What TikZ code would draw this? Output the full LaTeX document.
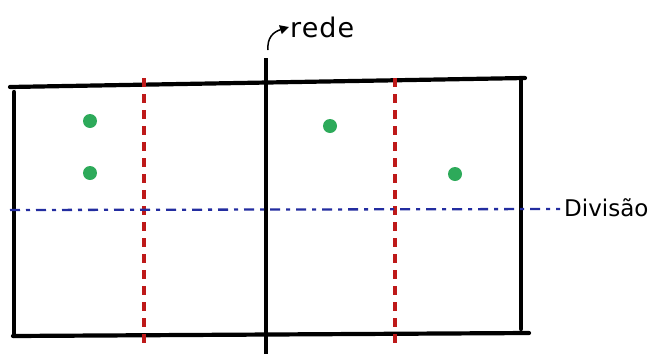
\documentclass[tikz,border=0pt]{standalone}
\usepackage{fontspec}
\setmainfont{DejaVu Sans}
\usetikzlibrary{arrows.meta}
\definecolor{netred}{RGB}{190,25,25}
\definecolor{divblue}{RGB}{35,45,160}
\definecolor{dotgreen}{RGB}{45,170,90}
\begin{document}
\begin{tikzpicture}[x=1pt,y=-1pt,
  court/.style={line width=4.2pt,black,line cap=round},
  redline/.style={line width=3.4pt,netred,dash pattern=on 9pt off 7pt},
  blueline/.style={line width=2.3pt,divblue,dash pattern=on 10pt off 6pt on 4pt off 6pt},
  ball/.style={circle,fill=dotgreen,inner sep=0pt,minimum size=14pt},
  lbl/.style={font=\fontsize{23}{24}\selectfont,inner sep=1pt},
  biglbl/.style={font=\fontsize{27}{28}\selectfont,inner sep=1pt}]
\useasboundingbox (0,0) rectangle (651,354);
% corners
\coordinate (tl) at (10,87);
\coordinate (tr) at (525,78);
\coordinate (lt) at (14,92);
\coordinate (lb) at (14,336);
\coordinate (bl) at (13,336);
\coordinate (br) at (529,333);
\coordinate (rt) at (521,78);
\coordinate (rb) at (521,329);
\coordinate (nt) at (266,58);
\coordinate (nb) at (266,354);
\coordinate (r1t) at (144,78);
\coordinate (r1b) at (144,348);
\coordinate (r2t) at (395,78);
\coordinate (r2b) at (395,350);
\coordinate (dl) at (10,210);
\coordinate (dr) at (560,209);
% court
\draw[court] (tl) -- (tr);
\draw[court] (lt) -- (lb);
\draw[court] (bl) -- (br);
\draw[court] (rt) -- (rb);
\draw[court,line cap=butt] (nt) -- (nb);
% red dashed lines
\draw[redline] (r1t) -- (r1b);
\draw[redline] (r2t) -- (r2b);
% blue division
\draw[blueline] (dl) -- (dr);
% balls
\node[ball] (b1) at (90,121) {};
\node[ball] (b2) at (90,173) {};
\node[ball] (b3) at (330,126) {};
\node[ball] (b4) at (455,174) {};
% labels
\node[biglbl,anchor=west] (rede) at (289,27) {\addfontfeatures{LetterSpace=4}rede};
\coordinate (arrs) at (268,50);
\draw[line width=1.5pt,-{Triangle[length=9pt,width=9pt]}] (arrs) .. controls (267,38) and (273,32) .. (rede.west);
\node[lbl,anchor=west] (div) at (563,208) {Divisão};
\end{tikzpicture}
\end{document}
